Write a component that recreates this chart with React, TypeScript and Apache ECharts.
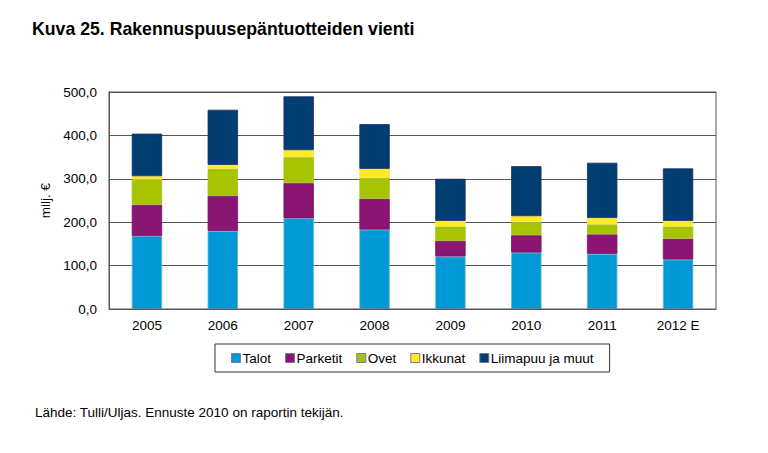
import React, { useEffect, useRef } from "react";
import * as echarts from "echarts";

const categories = ["2005", "2006", "2007", "2008", "2009", "2010", "2011", "2012 E"];
const talot = [168, 180, 209, 183, 121, 130, 127, 114];
const parketit = [72, 81, 81, 71, 36, 40, 45, 48];
const ovet = [58, 62, 60, 48, 33, 30, 23, 28];
const ikkunat = [8, 9, 16, 21, 13, 14, 15, 13];
const liimapuu = [98, 127, 124, 103, 97, 115, 127, 121];
const yTicks = [0, 100, 200, 300, 400, 500];

const seriesDefs = [
  { name: "Talot", data: talot, color: "#0099D5", border: "#5fb8e0" },
  { name: "Parketit", data: parketit, color: "#8A1572", border: "#7a0f60" },
  { name: "Ovet", data: ovet, color: "#A8C300", border: "#9cc02a" },
  { name: "Ikkunat", data: ikkunat, color: "#FFEC1E", border: "#f5e04a" },
  { name: "Liimapuu ja muut", data: liimapuu, color: "#003D70", border: "#1b2f66" },
];

const FONT = "'Liberation Sans', Arial, sans-serif";
const FS = 13.5;

export default function App() {
  const ref = useRef<HTMLDivElement>(null);
  useEffect(() => {
    if (!ref.current) return;
    const chart = echarts.init(ref.current, undefined, { renderer: "svg" });
    chart.setOption({
      animation: false,
      backgroundColor: "#ffffff",
      textStyle: { fontFamily: FONT },
      title: {
        text: "Kuva 25. Rakennuspuusepäntuotteiden vienti",
        left: 27,
        top: 15,
        textStyle: { fontFamily: FONT, fontSize: 17.7, fontWeight: "bold", color: "#000" },
      },
      graphic: [
        {
          type: "text",
          left: 35,
          top: 405,
          style: {
            text: "Lähde: Tulli/Uljas. Ennuste 2010 on raportin tekijän.",
            font: `${FS}px ${FONT}`,
            fill: "#000",
          },
        },
        {
          type: "rect",
          shape: { x: 109, y: 92, width: 607, height: 217 },
          style: { fill: "none", stroke: "#555", lineWidth: 1 },
          silent: true,
          z: 10,
        },
      ],
      legend: {
        left: 215,
        top: 344,
        itemWidth: 9,
        itemHeight: 9,
        itemGap: 14,
        padding: [7, 16, 7, 16],
        borderColor: "#333",
        borderWidth: 1,
        icon: "rect",
        textStyle: { fontFamily: FONT, fontSize: FS, color: "#000", padding: [0, 0, 0, -3] },
        data: seriesDefs.map((s) => ({
          name: s.name,
          itemStyle: { color: s.color, borderColor: "#7777aa", borderWidth: 1 },
        })),
      },
      grid: { left: 109, right: 52, top: 92, bottom: 144, containLabel: false },
      xAxis: {
        type: "category",
        data: categories,
        axisLine: { lineStyle: { color: "#555" } },
        axisTick: { show: false },
        axisLabel: { fontFamily: FONT, fontSize: FS, color: "#000", margin: 9 },
      },
      yAxis: {
        type: "value",
        min: yTicks[0],
        max: yTicks[yTicks.length - 1],
        interval: 100,
        name: "milj. €",
        nameLocation: "middle",
        nameGap: 57,
        nameTextStyle: { fontFamily: FONT, fontSize: FS, color: "#000" },
        axisLine: { show: true, lineStyle: { color: "#555" } },
        axisTick: { show: false },
        splitLine: { lineStyle: { color: "#555", width: 1 } },
        axisLabel: {
          fontFamily: FONT,
          fontSize: FS,
          color: "#000",
          margin: 12,
          formatter: (v: number) => v.toFixed(1).replace(".", ","),
        },
      },
      series: seriesDefs.map((s) => ({
        name: s.name,
        type: "bar",
        stack: "total",
        barWidth: "40%",
        data: s.data,
        itemStyle: { color: s.color, borderColor: s.border, borderWidth: 0.8 },
      })),
    });
    return () => chart.dispose();
  }, []);
  return <div ref={ref} style={{ width: 768, height: 453, margin: -8 }} />;
}
